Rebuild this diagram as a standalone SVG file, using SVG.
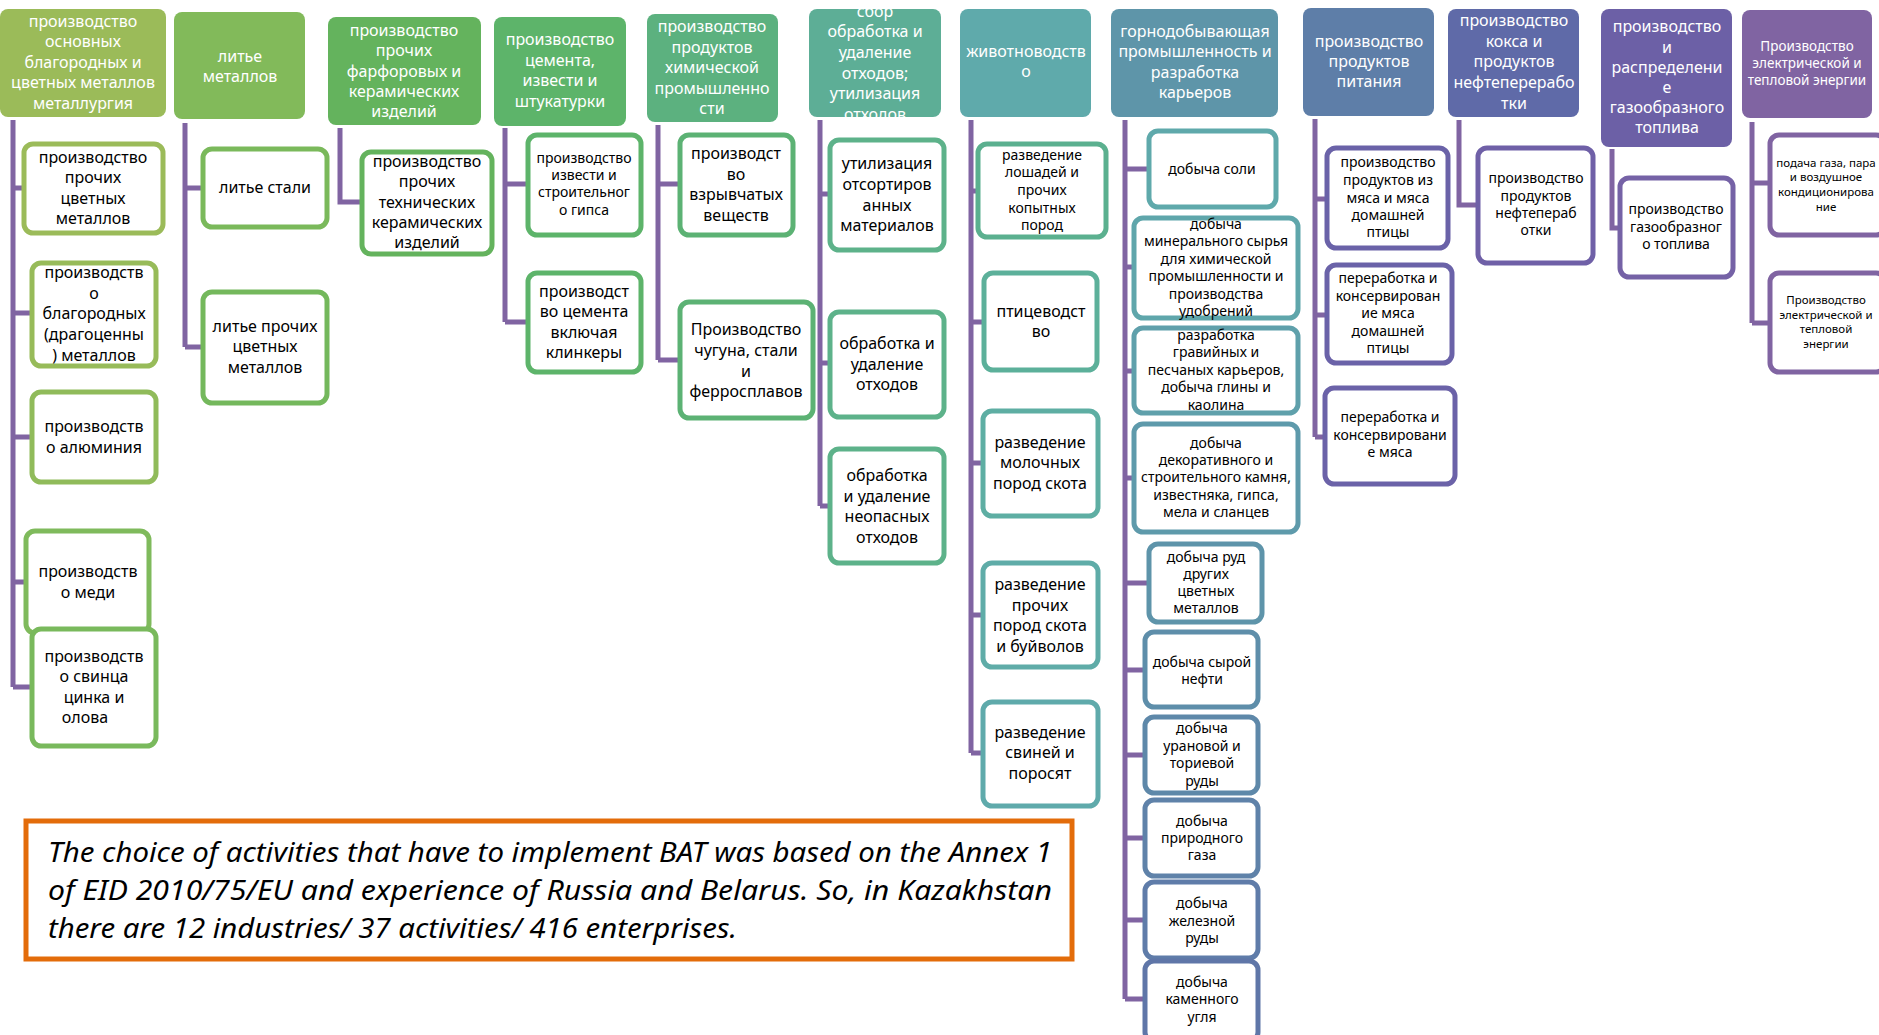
<svg xmlns="http://www.w3.org/2000/svg" width="1879" height="1035" viewBox="0 0 1879 1035">
<style>
text { font-family: "Noto Sans", "Open Sans", sans-serif; }
.h { fill:#ffffff; font-size:16px; text-anchor:middle; }
.hs { font-size:13.5px; }
.c { fill:#000000; font-size:16px; text-anchor:middle; }
.s { font-size:14px; }
.xs { font-size:11.5px; }
.b { fill:#ffffff; stroke-width:5; }
.conn path { fill:none; stroke:#8064a2; stroke-width:5; }
.note { font-size:27px; font-style:italic; fill:#000000; }
</style>
<defs>
<clipPath id="clipH6"><rect x="809" y="9" width="132" height="108" rx="8"/></clipPath>
</defs>
<rect width="1879" height="1035" fill="#ffffff"/>

<g id="connectors" class="conn">
<path d="M13,120 V687 M13,188 H24 M13,313 H32 M13,437 H32 M13,582 H26 M13,687 H32"/>
<path d="M185,123 V347 M185,188 H203 M185,347 H203"/>
<path d="M340,128 V202 H362"/>
<path d="M505,128 V322 M505,184 H528 M505,322 H528"/>
<path d="M658,125 V360 M658,184 H680 M658,360 H680"/>
<path d="M820,120 V506 M820,194 H830 M820,363 H830 M820,506 H830"/>
<path d="M971,120 V753 M971,191 H978 M971,322 H984 M971,463 H983 M971,615 H983 M971,753 H983"/>
<path d="M1125,120 V999 M1125,169 H1149 M1125,267 H1134 M1125,371 H1134 M1125,478 H1134 M1125,583 H1149 M1125,670 H1145 M1125,755 H1145 M1125,838 H1145 M1125,920 H1145 M1125,999 H1145"/>
<path d="M1315,119 V437 M1315,199 H1327 M1315,315 H1327 M1315,437 H1325"/>
<path d="M1459,120 V205 H1478"/>
<path d="M1612,149 V228 H1620"/>
<path d="M1752,122 V323 M1752,183 H1770 M1752,323 H1770"/>
</g>

<!-- Headers -->
<g id="h1"><rect x="0" y="9" width="166" height="108" rx="8" fill="#9bbb59"/>
<text class="h"><tspan x="83" y="27">производство</tspan><tspan x="83" y="47">основных</tspan><tspan x="83" y="68">благородных и</tspan><tspan x="83" y="88">цветных металлов</tspan><tspan x="83" y="109">металлургия</tspan></text></g>
<g id="h2"><rect x="174" y="12" width="131" height="107" rx="8" fill="#82ba5a"/>
<text class="h"><tspan x="240" y="62">литье</tspan><tspan x="240" y="82">металлов</tspan></text></g>
<g id="h3"><rect x="328" y="17" width="153" height="108" rx="8" fill="#64b35d"/>
<text class="h"><tspan x="404" y="36">производство</tspan><tspan x="404" y="56">прочих</tspan><tspan x="404" y="77">фарфоровых и</tspan><tspan x="404" y="97">керамических</tspan><tspan x="404" y="117">изделий</tspan></text></g>
<g id="h4"><rect x="494" y="17" width="132" height="109" rx="8" fill="#5db46a"/>
<text class="h"><tspan x="560" y="45">производство</tspan><tspan x="560" y="66">цемента,</tspan><tspan x="560" y="86">извести и</tspan><tspan x="560" y="107">штукатурки</tspan></text></g>
<g id="h5"><rect x="647" y="14" width="131" height="108" rx="8" fill="#5cb17f"/>
<text class="h"><tspan x="712" y="32">производство</tspan><tspan x="712" y="53">продуктов</tspan><tspan x="712" y="73">химической</tspan><tspan x="712" y="94">промышленно</tspan><tspan x="712" y="114">сти</tspan></text></g>
<g id="h6"><rect x="809" y="9" width="132" height="108" rx="8" fill="#5dae96"/>
<text class="h" clip-path="url(#clipH6)"><tspan x="875" y="17">сбор</tspan><tspan x="875" y="37">обработка и</tspan><tspan x="875" y="58">удаление</tspan><tspan x="875" y="79">отходов;</tspan><tspan x="875" y="99">утилизация</tspan><tspan x="875" y="120">отходов</tspan></text></g>
<g id="h7"><rect x="960" y="9" width="131" height="108" rx="8" fill="#5faaab"/>
<text class="h"><tspan x="1026" y="57">животноводств</tspan><tspan x="1026" y="77">о</tspan></text></g>
<g id="h8"><rect x="1111" y="9" width="167" height="108" rx="8" fill="#5e95a9"/>
<text class="h"><tspan x="1195" y="37">горнодобывающая</tspan><tspan x="1195" y="57">промышленность и</tspan><tspan x="1195" y="78">разработка</tspan><tspan x="1195" y="98">карьеров</tspan></text></g>
<g id="h9"><rect x="1303" y="8" width="131" height="108" rx="8" fill="#5e7ea8"/>
<text class="h"><tspan x="1369" y="47">производство</tspan><tspan x="1369" y="67">продуктов</tspan><tspan x="1369" y="87">питания</tspan></text></g>
<g id="h10"><rect x="1448" y="9" width="131" height="108" rx="8" fill="#5f6aa8"/>
<text class="h"><tspan x="1514" y="26">производство</tspan><tspan x="1514" y="47">кокса и</tspan><tspan x="1514" y="67">продуктов</tspan><tspan x="1514" y="88">нефтеперерабо</tspan><tspan x="1514" y="109">тки</tspan></text></g>
<g id="h11"><rect x="1601" y="9" width="131" height="138" rx="8" fill="#6c60a6"/>
<text class="h"><tspan x="1667" y="32">производство</tspan><tspan x="1667" y="53">и</tspan><tspan x="1667" y="73">распределени</tspan><tspan x="1667" y="93">е</tspan><tspan x="1667" y="113">газообразного</tspan><tspan x="1667" y="133">топлива</tspan></text></g>
<g id="h12"><rect x="1742" y="10" width="130" height="108" rx="8" fill="#8064a2"/>
<text class="h hs"><tspan x="1807" y="51">Производство</tspan><tspan x="1807" y="68">электрической и</tspan><tspan x="1807" y="85">тепловой энергии</tspan></text></g>

<!-- Column 1 children -->
<g id="c1a"><rect class="b" x="24" y="144" width="139" height="89" rx="9" stroke="#9bbb59"/>
<text class="c"><tspan x="93" y="163">производство</tspan><tspan x="93" y="183">прочих</tspan><tspan x="93" y="204">цветных</tspan><tspan x="93" y="224">металлов</tspan></text></g>
<g id="c1b"><rect class="b" x="32" y="263" width="124" height="103" rx="9" stroke="#97bb59"/>
<text class="c"><tspan x="94" y="278">производств</tspan><tspan x="94" y="299">о</tspan><tspan x="94" y="319">благородных</tspan><tspan x="94" y="340">(драгоценны</tspan><tspan x="94" y="361">) металлов</tspan></text></g>
<g id="c1c"><rect class="b" x="32" y="392" width="124" height="90" rx="9" stroke="#90bb5a"/>
<text class="c"><tspan x="94" y="432">производств</tspan><tspan x="94" y="453">о алюминия</tspan></text></g>
<g id="c1d"><rect class="b" x="26" y="531" width="123" height="102" rx="9" stroke="#7fba5c"/>
<text class="c"><tspan x="88" y="577">производств</tspan><tspan x="88" y="598">о меди</tspan></text></g>
<g id="c1e"><rect class="b" x="32" y="629" width="124" height="117" rx="9" stroke="#79b95c"/>
<text class="c"><tspan x="94" y="662">производств</tspan><tspan x="94" y="682">о свинца</tspan><tspan x="94" y="703">цинка и</tspan><tspan x="85" y="723">олова</tspan></text></g>

<!-- Column 2 -->
<g id="c2a"><rect class="b" x="203" y="149" width="124" height="78" rx="9" stroke="#7ab95b"/>
<text class="c"><tspan x="265" y="193">литье стали</tspan></text></g>
<g id="c2b"><rect class="b" x="203" y="292" width="124" height="111" rx="9" stroke="#74b85c"/>
<text class="c"><tspan x="265" y="332">литье прочих</tspan><tspan x="265" y="352">цветных</tspan><tspan x="265" y="373">металлов</tspan></text></g>

<!-- Column 3 -->
<g id="c3a"><rect class="b" x="362" y="152" width="130" height="102" rx="9" stroke="#64b35d"/>
<text class="c"><tspan x="427" y="167">производство</tspan><tspan x="427" y="187">прочих</tspan><tspan x="427" y="208">технических</tspan><tspan x="427" y="228">керамических</tspan><tspan x="427" y="248">изделий</tspan></text></g>

<!-- Column 4 -->
<g id="c4a"><rect class="b" x="528" y="135" width="113" height="100" rx="9" stroke="#5db46a"/>
<text class="c s"><tspan x="584" y="163">производство</tspan><tspan x="584" y="180">извести и</tspan><tspan x="584" y="197">строительног</tspan><tspan x="584" y="215">о гипса</tspan></text></g>
<g id="c4b"><rect class="b" x="528" y="273" width="113" height="99" rx="9" stroke="#5db46a"/>
<text class="c"><tspan x="584" y="297">производст</tspan><tspan x="584" y="317">во цемента</tspan><tspan x="584" y="338">включая</tspan><tspan x="584" y="358">клинкеры</tspan></text></g>

<!-- Column 5 -->
<g id="c5a"><rect class="b" x="680" y="135" width="113" height="100" rx="9" stroke="#5cb274"/>
<text class="c"><tspan x="736" y="159">производст</tspan><tspan x="736" y="180">во</tspan><tspan x="736" y="200">взрывчатых</tspan><tspan x="736" y="221">веществ</tspan></text></g>
<g id="c5b"><rect class="b" x="680" y="302" width="133" height="116" rx="9" stroke="#5cb274"/>
<text class="c"><tspan x="746" y="335">Производство</tspan><tspan x="746" y="356">чугуна, стали</tspan><tspan x="746" y="377">и</tspan><tspan x="746" y="397">ферросплавов</tspan></text></g>

<!-- Column 6 -->
<g id="c6a"><rect class="b" x="830" y="140" width="114" height="110" rx="9" stroke="#5db28a"/>
<text class="c"><tspan x="887" y="169">утилизация</tspan><tspan x="887" y="190">отсортиров</tspan><tspan x="887" y="211">анных</tspan><tspan x="887" y="231">материалов</tspan></text></g>
<g id="c6b"><rect class="b" x="830" y="312" width="114" height="105" rx="9" stroke="#5db28a"/>
<text class="c"><tspan x="887" y="349">обработка и</tspan><tspan x="887" y="370">удаление</tspan><tspan x="887" y="390">отходов</tspan></text></g>
<g id="c6c"><rect class="b" x="830" y="449" width="114" height="114" rx="9" stroke="#5db28a"/>
<text class="c"><tspan x="887" y="481">обработка</tspan><tspan x="887" y="502">и удаление</tspan><tspan x="887" y="522">неопасных</tspan><tspan x="887" y="543">отходов</tspan></text></g>

<!-- Column 7 -->
<g id="c7a"><rect class="b" x="978" y="144" width="128" height="93" rx="9" stroke="#5bb08f"/>
<text class="c s"><tspan x="1042" y="160">разведение</tspan><tspan x="1042" y="177">лошадей и</tspan><tspan x="1042" y="195">прочих</tspan><tspan x="1042" y="213">копытных</tspan><tspan x="1042" y="230">пород</tspan></text></g>
<g id="c7b"><rect class="b" x="984" y="273" width="113" height="97" rx="9" stroke="#5cb09a"/>
<text class="c"><tspan x="1041" y="317">птицеводст</tspan><tspan x="1041" y="337">во</tspan></text></g>
<g id="c7c"><rect class="b" x="983" y="411" width="115" height="105" rx="9" stroke="#5eaea3"/>
<text class="c"><tspan x="1040" y="448">разведение</tspan><tspan x="1040" y="468">молочных</tspan><tspan x="1040" y="489">пород скота</tspan></text></g>
<g id="c7d"><rect class="b" x="983" y="563" width="115" height="104" rx="9" stroke="#5faca8"/>
<text class="c"><tspan x="1040" y="590">разведение</tspan><tspan x="1040" y="611">прочих</tspan><tspan x="1040" y="631">пород скота</tspan><tspan x="1040" y="652">и буйволов</tspan></text></g>
<g id="c7e"><rect class="b" x="983" y="702" width="115" height="104" rx="9" stroke="#5faaab"/>
<text class="c"><tspan x="1040" y="738">разведение</tspan><tspan x="1040" y="758">свиней и</tspan><tspan x="1040" y="779">поросят</tspan></text></g>

<!-- Column 8 -->
<g id="c8a"><rect class="b" x="1149" y="131" width="127" height="76" rx="9" stroke="#5fa9ab"/>
<text class="c s"><tspan x="1212" y="174">добыча соли</tspan></text></g>
<g id="c8b"><rect class="b" x="1134" y="218" width="164" height="100" rx="9" stroke="#5fa6ab"/>
<text class="c s"><tspan x="1216" y="229">добыча</tspan><tspan x="1216" y="246">минерального сырья</tspan><tspan x="1216" y="264">для химической</tspan><tspan x="1216" y="281">промышленности и</tspan><tspan x="1216" y="299">производства</tspan><tspan x="1216" y="316">удобрений</tspan></text></g>
<g id="c8c"><rect class="b" x="1134" y="328" width="164" height="85" rx="9" stroke="#5fa0ab"/>
<text class="c s"><tspan x="1216" y="340">разработка</tspan><tspan x="1216" y="357">гравийных и</tspan><tspan x="1216" y="375">песчаных карьеров,</tspan><tspan x="1216" y="392">добыча глины и</tspan><tspan x="1216" y="410">каолина</tspan></text></g>
<g id="c8d"><rect class="b" x="1134" y="424" width="164" height="108" rx="9" stroke="#5e9aab"/>
<text class="c s"><tspan x="1216" y="448">добыча</tspan><tspan x="1216" y="465">декоративного и</tspan><tspan x="1216" y="482">строительного камня,</tspan><tspan x="1216" y="500">известняка, гипса,</tspan><tspan x="1216" y="517">мела и сланцев</tspan></text></g>
<g id="c8e"><rect class="b" x="1149" y="544" width="113" height="78" rx="9" stroke="#5e94aa"/>
<text class="c s"><tspan x="1206" y="562">добыча руд</tspan><tspan x="1206" y="579">других</tspan><tspan x="1206" y="596">цветных</tspan><tspan x="1206" y="613">металлов</tspan></text></g>
<g id="c8f"><rect class="b" x="1145" y="632" width="113" height="75" rx="9" stroke="#5e8eaa"/>
<text class="c s"><tspan x="1202" y="667">добыча сырой</tspan><tspan x="1202" y="684">нефти</tspan></text></g>
<g id="c8g"><rect class="b" x="1145" y="717" width="113" height="76" rx="9" stroke="#5e88a9"/>
<text class="c s"><tspan x="1202" y="733">добыча</tspan><tspan x="1202" y="751">урановой и</tspan><tspan x="1202" y="768">ториевой</tspan><tspan x="1202" y="786">руды</tspan></text></g>
<g id="c8h"><rect class="b" x="1145" y="800" width="113" height="76" rx="9" stroke="#5f82a9"/>
<text class="c s"><tspan x="1202" y="826">добыча</tspan><tspan x="1202" y="843">природного</tspan><tspan x="1202" y="860">газа</tspan></text></g>
<g id="c8i"><rect class="b" x="1145" y="882" width="113" height="76" rx="9" stroke="#5f7ca9"/>
<text class="c s"><tspan x="1202" y="908">добыча</tspan><tspan x="1202" y="926">железной</tspan><tspan x="1202" y="943">руды</tspan></text></g>
<g id="c8j"><rect class="b" x="1145" y="961" width="113" height="80" rx="9" stroke="#5f76a8"/>
<text class="c s"><tspan x="1202" y="987">добыча</tspan><tspan x="1202" y="1004">каменного</tspan><tspan x="1202" y="1022">угля</tspan></text></g>

<!-- Column 9 -->
<g id="c9a"><rect class="b" x="1327" y="148" width="121" height="100" rx="9" stroke="#6a62a8"/>
<text class="c s"><tspan x="1388" y="167">производство</tspan><tspan x="1388" y="185">продуктов из</tspan><tspan x="1388" y="203">мяса и мяса</tspan><tspan x="1388" y="220">домашней</tspan><tspan x="1388" y="237">птицы</tspan></text></g>
<g id="c9b"><rect class="b" x="1327" y="265" width="125" height="98" rx="9" stroke="#6a62a8"/>
<text class="c s"><tspan x="1388" y="283">переработка и</tspan><tspan x="1388" y="301">консервирован</tspan><tspan x="1388" y="318">ие мяса</tspan><tspan x="1388" y="336">домашней</tspan><tspan x="1388" y="353">птицы</tspan></text></g>
<g id="c9c"><rect class="b" x="1325" y="388" width="130" height="96" rx="9" stroke="#6b62a8"/>
<text class="c s"><tspan x="1390" y="422">переработка и</tspan><tspan x="1390" y="440">консервировани</tspan><tspan x="1390" y="457">е мяса</tspan></text></g>

<!-- Column 10 -->
<g id="c10a"><rect class="b" x="1478" y="148" width="115" height="115" rx="9" stroke="#6f60a7"/>
<text class="c s"><tspan x="1536" y="183">производство</tspan><tspan x="1536" y="201">продуктов</tspan><tspan x="1536" y="218">нефтепераб</tspan><tspan x="1536" y="235">отки</tspan></text></g>

<!-- Column 11 -->
<g id="c11a"><rect class="b" x="1620" y="178" width="113" height="99" rx="9" stroke="#7562a6"/>
<text class="c s"><tspan x="1676" y="214">производство</tspan><tspan x="1676" y="232">газообразног</tspan><tspan x="1676" y="249">о топлива</tspan></text></g>

<!-- Column 12 -->
<g id="c12a"><rect class="b" x="1770" y="135" width="115" height="100" rx="9" stroke="#8064a2"/>
<text class="c xs"><tspan x="1826" y="167">подача газа, пара</tspan><tspan x="1826" y="181">и воздушное</tspan><tspan x="1826" y="196">кондиционирова</tspan><tspan x="1826" y="211">ние</tspan></text></g>
<g id="c12b"><rect class="b" x="1770" y="273" width="115" height="99" rx="9" stroke="#8064a2"/>
<text class="c xs"><tspan x="1826" y="304">Производство</tspan><tspan x="1826" y="319">электрической и</tspan><tspan x="1826" y="333">тепловой</tspan><tspan x="1826" y="348">энергии</tspan></text></g>

<!-- Note box -->
<g id="note">
<rect x="26" y="821" width="1046" height="138" fill="#ffffff" stroke="#e36c0a" stroke-width="5"/>
<text class="note" x="48" y="862" textLength="1004" lengthAdjust="spacingAndGlyphs">The choice of activities that have to implement BAT was based on the Annex 1</text>
<text class="note" x="48" y="900" textLength="1004" lengthAdjust="spacingAndGlyphs">of EID 2010/75/EU and experience of Russia and Belarus. So, in Kazakhstan</text>
<text class="note" x="48" y="938" textLength="689" lengthAdjust="spacingAndGlyphs">there are 12 industries/ 37 activities/ 416 enterprises.</text>
</g>
</svg>
